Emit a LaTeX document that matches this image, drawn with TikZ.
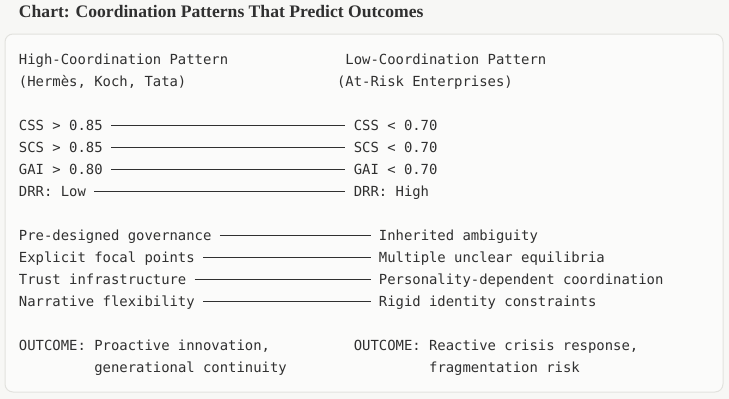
\documentclass[tikz,border=0pt]{standalone}
\usepackage{fontspec}
\setmainfont{Liberation Serif}
\newfontfamily\codefont{DejaVu Sans Mono}
\usetikzlibrary{calc}

\definecolor{pagebg}{HTML}{F7F7F5}
\definecolor{boxbg}{HTML}{FBFBFA}
\definecolor{boxline}{HTML}{E2E2DE}
\definecolor{ink}{HTML}{303030}

\newcommand{\cw}{8.37}  % width of one character cell
\newcommand{\lh}{22}    % line height

\begin{document}
\begin{tikzpicture}[x=1pt,y=-1pt,every node/.style={outer sep=0pt,inner sep=0pt}]
\tikzstyle{code}=[anchor=base west,text=ink,font=\codefont\fontsize{13.9}{22}\selectfont,text height=11pt,text depth=0pt]
\tikzstyle{link}=[draw=ink,line width=0.9pt,shorten <=\cw pt,shorten >=\cw pt]

% page and panel
\fill [pagebg] (0,0) rectangle (729,399);
\draw [fill=boxbg,draw=boxline,line width=1pt,rounded corners=8pt] (5,34) rectangle (723,392);

\node (title) [anchor=base west,text=ink,font=\bfseries\fontsize{17.6}{20}\selectfont] at (19,17) {Chart: Coordination Patterns That Predict Outcomes};

% headers
\node (highHead) [code] at (19,64.5) {High-Coordination Pattern};
\node (highSub) [code] at (19,64.5+\lh) {(Hermès, Koch, Tata)};
\node (lowHead) [code] at (19+39*\cw,64.5) {Low-Coordination Pattern};
\node (lowSub) [code] at (19+38*\cw,64.5+\lh) {(At-Risk Enterprises)};

% metrics
\node (CSSh) [code] at (19,64.5+3*\lh) {CSS > 0.85};
\node (SCSh) [code] at (19,64.5+4*\lh) {SCS > 0.85};
\node (GAIh) [code] at (19,64.5+5*\lh) {GAI > 0.80};
\node (DRRh) [code] at (19,64.5+6*\lh) {DRR: Low};
\node (CSSl) [code] at (19+40*\cw,64.5+3*\lh) {CSS < 0.70};
\node (SCSl) [code] at (19+40*\cw,64.5+4*\lh) {SCS < 0.70};
\node (GAIl) [code] at (19+40*\cw,64.5+5*\lh) {GAI < 0.70};
\node (DRRl) [code] at (19+40*\cw,64.5+6*\lh) {DRR: High};

\draw [link] (CSSh) -- (CSSl);
\draw [link] (SCSh) -- (SCSl);
\draw [link] (GAIh) -- (GAIl);
\draw [link] (DRRh) -- (DRRl);

% mechanisms
\node (govH) [code] at (19,64.5+8*\lh) {Pre-designed governance};
\node (focH) [code] at (19,64.5+9*\lh) {Explicit focal points};
\node (trustH) [code] at (19,64.5+10*\lh) {Trust infrastructure};
\node (narH) [code] at (19,64.5+11*\lh) {Narrative flexibility};
\node (govL) [code] at (19+43*\cw,64.5+8*\lh) {Inherited ambiguity};
\node (focL) [code] at (19+43*\cw,64.5+9*\lh) {Multiple unclear equilibria};
\node (trustL) [code] at (19+43*\cw,64.5+10*\lh) {Personality-dependent coordination};
\node (narL) [code] at (19+43*\cw,64.5+11*\lh) {Rigid identity constraints};

\draw [link] (govH) -- (govL);
\draw [link] (focH) -- (focL);
\draw [link] (trustH) -- (trustL);
\draw [link] (narH) -- (narL);

% outcomes
\node (outH) [code] at (19,64.5+13*\lh) {OUTCOME: Proactive innovation,};
\node (outH2) [code] at (19+9*\cw,64.5+14*\lh) {generational continuity};
\node (outL) [code] at (19+40*\cw,64.5+13*\lh) {OUTCOME: Reactive crisis response,};
\node (outL2) [code] at (19+49*\cw,64.5+14*\lh) {fragmentation risk};
\end{tikzpicture}
\end{document}
